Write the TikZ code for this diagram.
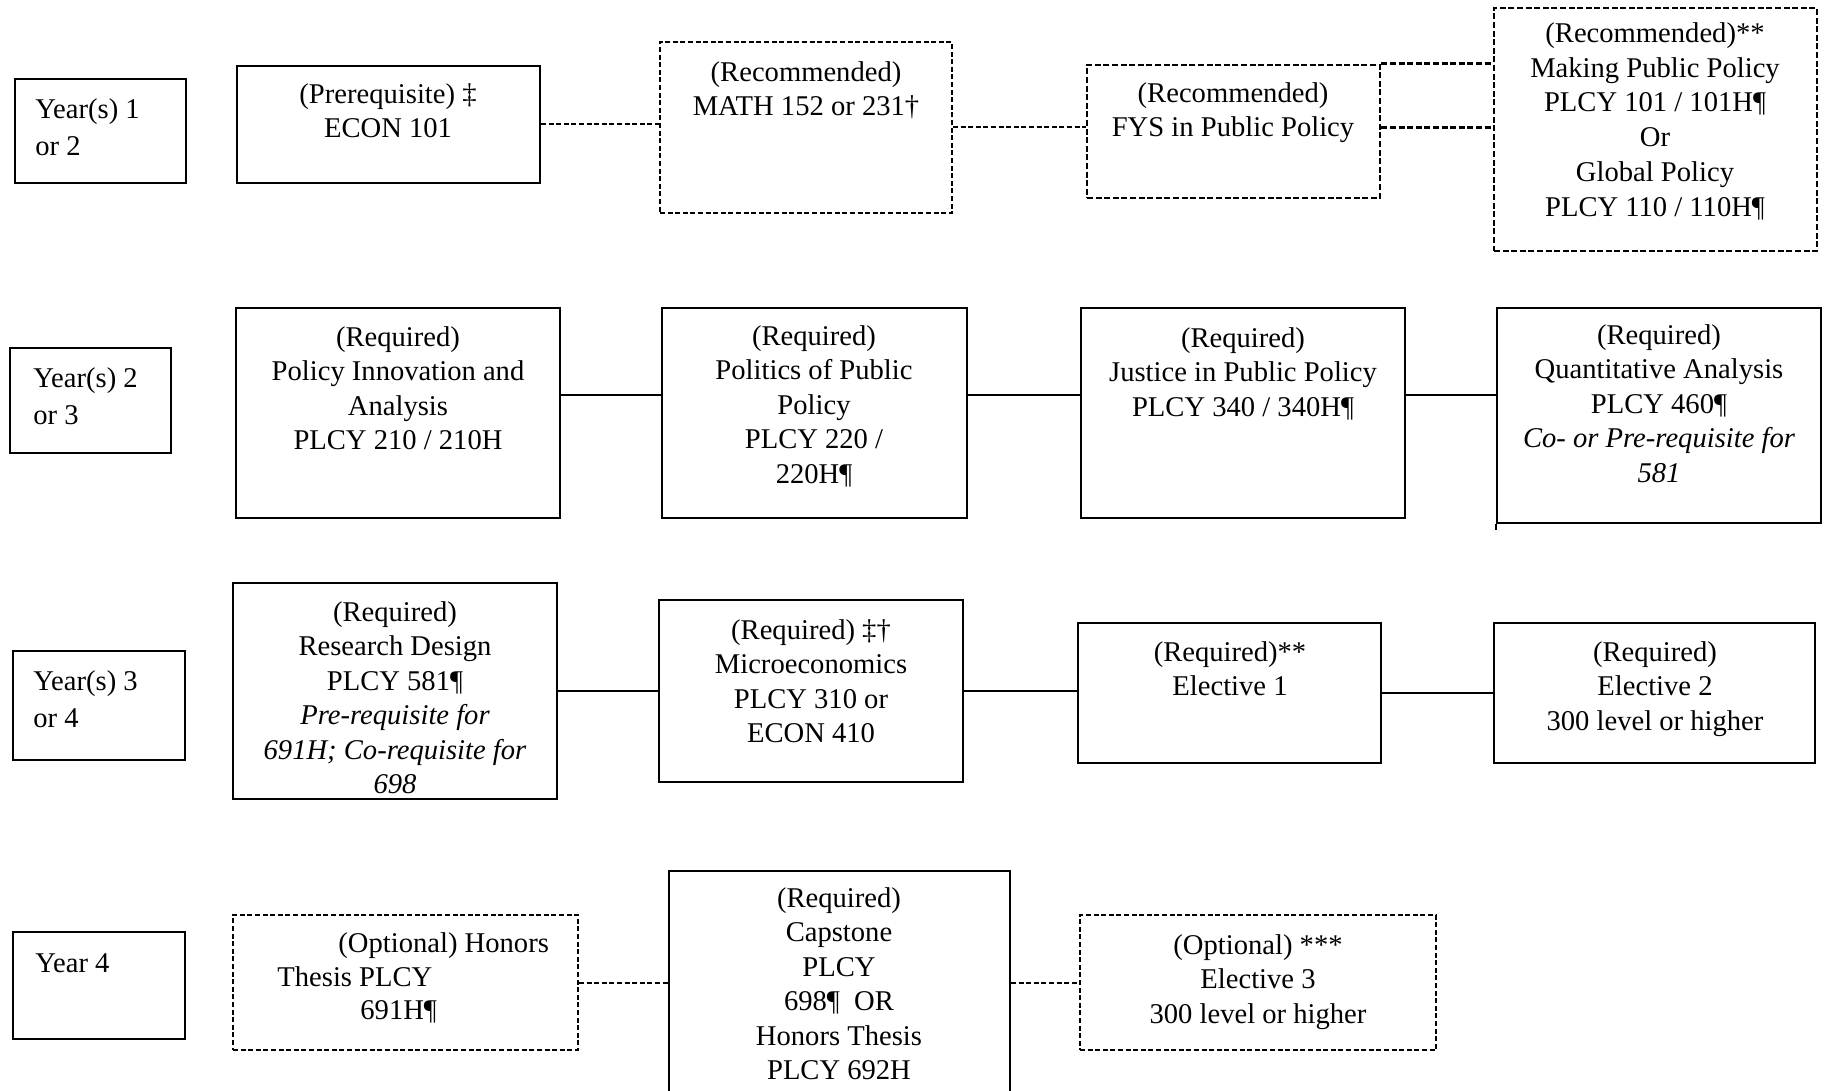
\documentclass[tikz,border=0pt]{standalone}
\usepackage{fontspec}
\setmainfont{Liberation Serif}
\usetikzlibrary{fit,calc}
\tikzset{
  box/.style={draw=black, line width=1pt, inner sep=0pt},
  dbox/.style={draw=black, line width=0.9pt, dash pattern=on 2.5pt off 1.3pt, inner sep=0pt},
  tdbox/.style={draw=black, line width=1.4pt, dash pattern=on 3pt off 1.3pt, inner sep=0pt},
  txt/.style={inner sep=0pt, align=center, anchor=north, yshift=0.7*17.2pt, font=\fontsize{14.3}{17.2}\selectfont},
  ytxt/.style={inner sep=0pt, align=left, anchor=north west, yshift=0.7*18.5pt, font=\fontsize{14.3}{18.5}\selectfont},
  ltxt/.style={inner sep=0pt, align=left, anchor=north west, yshift=0.7*16.8pt, font=\fontsize{14.3}{16.8}\selectfont},
  sline/.style={draw=black, line width=1pt},
  dline/.style={draw=black, line width=1pt, dash pattern=on 2.5pt off 1.3pt},
  tdline/.style={draw=black, line width=1.4pt, dash pattern=on 3pt off 1.3pt},
}
\begin{document}
\begin{tikzpicture}[x=0.5pt, y=-0.5pt]
\useasboundingbox (0,0) rectangle (1824,1091);
\fill[white] (0,0) rectangle (1824,1091);
\clip (0,0) rectangle (1824,1091);

% ---------- Row 1 ----------
\node[box, fit={(15,79) (186,183)}] (y1) {};
\node[ytxt] (ty1) at (35,118) {\strut Year(s) 1\\or 2};

\node[box, fit={(237,66) (540,183)}] (econ) {};
\node[txt] (tecon) at (388,103) {\strut(Prerequisite) ‡\\ECON 101};

\node[dbox, fit={(660,42) (952,213)}] (math) {};
\node[txt] (tmath) at (806,81) {\strut(Recommended)\\MATH 152 or 231†};

\node[tdbox, fit={(1087,65) (1380,198)}] (fys) {};
\node[txt] (tfys) at (1233,102) {\strut(Recommended)\\FYS in Public Policy};

\node[tdbox, fit={(1494,8) (1817,251)}] (mpp) {};
\node[txt, font=\fontsize{14.3}{17.4}\selectfont, yshift=0.7*17.4pt-0.7*17.2pt] (tmpp) at (1655,42) {\strut(Recommended)**\\Making Public Policy\\PLCY 101 / 101H¶\\Or\\Global Policy\\PLCY 110 / 110H¶};

\draw[dline] (econ.east) -- (econ.east -| math.west);
\draw[dline] (math.east) -- (math.east -| fys.west);
\draw[tdline] (math.east -| fys.east) -- (math.east -| mpp.west);
\draw[tdline] (fys.north east) -- (fys.north east -| mpp.west);

% ---------- Row 2 ----------
\node[box, fit={(10,348) (171,453)}] (y2) {};
\node[ytxt] (ty2) at (33,387) {\strut Year(s) 2\\or 3};

\node[box, fit={(236,308) (560,518)}] (pia) {};
\node[txt] (tpia) at (398,346) {\strut(Required)\\Policy Innovation and\\Analysis\\PLCY 210 / 210H};

\node[box, fit={(662,308) (967,518)}] (pol) {};
\node[txt] (tpol) at (814,345) {\strut(Required)\\Politics of Public\\Policy\\PLCY 220 /\\220H¶};

\node[box, fit={(1081,308) (1405,518)}] (jus) {};
\node[txt] (tjus) at (1243,347) {\strut(Required)\\Justice in Public Policy\\PLCY 340 / 340H¶};

\node[box, fit={(1497,308) (1821,523)}] (qa) {};
\node[txt] (tqa) at (1659,344) {\strut(Required)\\Quantitative Analysis\\PLCY 460¶\\{\itshape Co- or Pre-requisite for}\\{\itshape 581}};
\draw[line width=0.8pt] (qa.south west) -- ++(0,6);

\draw[sline] ([yshift=9pt]pia.east) -- ([yshift=9pt]pia.east -| pol.west);
\draw[sline] ([yshift=9pt]pol.east) -- ([yshift=9pt]pol.east -| jus.west);
\draw[sline] ([yshift=9pt]jus.east) -- ([yshift=9pt]jus.east -| qa.west);

% ---------- Row 3 ----------
\node[box, fit={(13,651) (185,760)}] (y3) {};
\node[ytxt] (ty3) at (33,690) {\strut Year(s) 3\\or 4};

\node[box, fit={(233,583) (557,799)}] (rd) {};
\node[txt] (trd) at (395,621) {\strut(Required)\\Research Design\\PLCY 581¶\\{\itshape Pre-requisite for}\\{\itshape 691H; Co-requisite for}\\{\itshape 698}};

\node[box, fit={(659,600) (963,782)}] (mic) {};
\node[txt] (tmic) at (811,639) {\strut(Required) ‡†\\Microeconomics\\PLCY 310 or\\ECON 410};

\node[box, fit={(1078,623) (1381,763)}] (el1) {};
\node[txt] (tel1) at (1230,661) {\strut(Required)**\\Elective 1};

\node[box, fit={(1494,623) (1815,763)}] (el2) {};
\node[txt] (tel2) at (1655,661) {\strut(Required)\\Elective 2\\300 level or higher};

\draw[sline] (rd.east) -- (rd.east -| mic.west);
\draw[sline] (mic.east) -- (mic.east -| el1.west);
\draw[sline] (el1.east) -- (el1.east -| el2.west);

% ---------- Row 4 ----------
\node[box, fit={(13,932) (185,1039)}] (y4) {};
\node[ytxt] (ty4) at (35,972) {\strut Year 4};

\node[dbox, fit={(233,915) (578,1050)}] (hon) {};
\node[ltxt] (thon) at (277,952) {\strut\hspace*{30.5pt}(Optional) Honors\\Thesis PLCY\\\hspace*{41.5pt}691H¶};

\node[box, fit={(669,871) (1010,1110)}] (cap) {};
\node[txt] (tcap) at (839,907) {\strut(Required)\\Capstone\\PLCY\\698¶~ OR\\Honors Thesis\\PLCY 692H};

\node[dbox, fit={(1080,915) (1436,1050)}] (el3) {};
\node[txt] (tel3) at (1258,954) {\strut(Optional) ***\\Elective 3\\300 level or higher};

\draw[dline] (hon.east) -- (hon.east -| cap.west);
\draw[dline] (hon.east -| cap.east) -- (hon.east -| el3.west);
\end{tikzpicture}
\end{document}
